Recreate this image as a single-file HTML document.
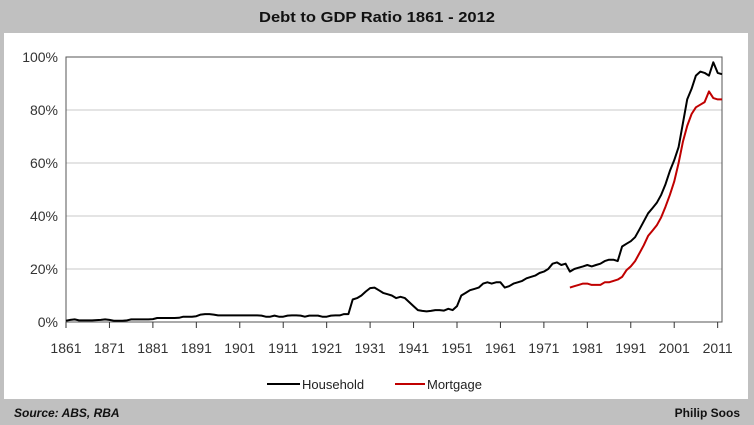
<!DOCTYPE html>
<html><head><meta charset="utf-8"><style>
body{margin:0;background:#c0c0c0;width:754px;height:425px;overflow:hidden;font-family:"Liberation Sans",sans-serif}
svg{display:block}
</style></head><body>
<svg width="754" height="425">
<rect x="0" y="0" width="754" height="425" fill="#c0c0c0"/>
<text x="377" y="22" text-anchor="middle" font-size="15" font-weight="bold" fill="#111" textLength="236" lengthAdjust="spacingAndGlyphs">Debt to GDP Ratio 1861 - 2012</text>
<rect x="4" y="33" width="744" height="366" fill="#fff"/>
<g id="grid"></g>
<g id="axes"></g>
<g id="series"></g>
<g>
<line x1="267" y1="384" x2="300" y2="384" stroke="#000" stroke-width="2"/>
<text x="302" y="389" font-size="13" fill="#222">Household</text>
<line x1="395" y1="384" x2="425" y2="384" stroke="#c00000" stroke-width="2"/>
<text x="427" y="389" font-size="13" fill="#222">Mortgage</text>
</g>
<text x="14" y="417" font-size="12" font-style="italic" font-weight="bold" fill="#111">Source: ABS, RBA</text>
<text x="740" y="417" font-size="12" font-weight="bold" fill="#111" text-anchor="end">Philip Soos</text>
</svg>
<script>
const householdStart = 1861;
const household = [0.5,0.8,1,0.6,0.6,0.6,0.6,0.7,0.8,1.0,
0.8,0.5,0.5,0.5,0.6,1.0,1.0,1.0,1.0,1.0,
1.1,1.5,1.5,1.5,1.5,1.5,1.6,2.0,2.0,2.0,
2.2,2.8,3.0,3.0,2.8,2.5,2.5,2.5,2.5,2.5,
2.5,2.5,2.5,2.5,2.5,2.4,2.0,2.0,2.4,2.0,
2.0,2.4,2.5,2.5,2.4,2.0,2.4,2.4,2.4,2.0,
2.0,2.4,2.5,2.5,3.0,3.0,8.5,9.0,10,11.5,
12.8,13,12,11,10.5,10,9,9.5,9,7.5,
6,4.5,4.2,4,4.2,4.5,4.5,4.3,5,4.5,
6,10,11,12,12.5,13,14.5,15,14.5,15,
15,13,13.5,14.5,15,15.5,16.5,17,17.5,18.5,
19,20,22,22.5,21.5,22,19,20,20.5,21,
21.5,21,21.5,22,23,23.5,23.5,23,28.5,29.5,
30.5,32,35,38,41,43,45,48,52,57,
61,66,75,84,88,93,94.5,94,93,98,94,93.5];
const mortgageStart = 1977;
const mortgage = [13,13.5,14,14.5,14.5,14,14,14,15,15,15.5,16,17,19.5,
21,23,26,29,32.5,34.5,36.5,39.5,43.5,48,
53,60,68,74,78.5,81,82,83,87,84.5,84,84];
const yTicks = [0,20,40,60,80,100];
const xTicks = [1861,1871,1881,1891,1901,1911,1921,1931,1941,1951,1961,1971,1981,1991,2001,2011];

const NS="http://www.w3.org/2000/svg";
const L=66,R=722,T=57,B=322;
function xs(yr){return L+(yr-1861)*(R-L)/(2012-1861);}
function ys(v){return B-v*(B-T)/100;}
function mk(tag,attrs,parent){const e=document.createElementNS(NS,tag);for(const k in attrs)e.setAttribute(k,attrs[k]);parent.appendChild(e);return e;}
const grid=document.getElementById('grid'),axes=document.getElementById('axes'),series=document.getElementById('series');
yTicks.forEach(v=>{
  if(v>0){const g=mk('line',{x1:L,x2:R,y1:ys(v),y2:ys(v),stroke:'#c8c8c8','stroke-width':1},grid);
  
  }
  const t=mk('text',{x:L-8,y:ys(v)+5,'text-anchor':'end','font-size':14,fill:'#333'},axes);
  t.textContent=v+'%';
  
  
});
const frame=mk('rect',{x:L,y:T,width:R-L,height:B-T,fill:'none',stroke:'#555','stroke-width':1},axes);


xTicks.forEach(yr=>{
  mk('line',{x1:xs(yr),x2:xs(yr),y1:B,y2:B+6,stroke:'#333'},axes);
  const t=mk('text',{x:xs(yr),y:B+31,'text-anchor':'middle','font-size':14,fill:'#333'},axes);
  t.textContent=yr;
  
  
});
function line(data,start,color,name){
  const d=data.map((v,i)=>(i?'L':'M')+xs(start+i).toFixed(1)+','+ys(v).toFixed(1)).join('');
  const p=mk('path',{d:d,fill:'none',stroke:color,'stroke-width':2,'stroke-linejoin':'round'},series);
  
  
}
line(mortgage,mortgageStart,'#c00000','mortgage-line');
line(household,householdStart,'#000','household-line');
</script>
</body></html>
